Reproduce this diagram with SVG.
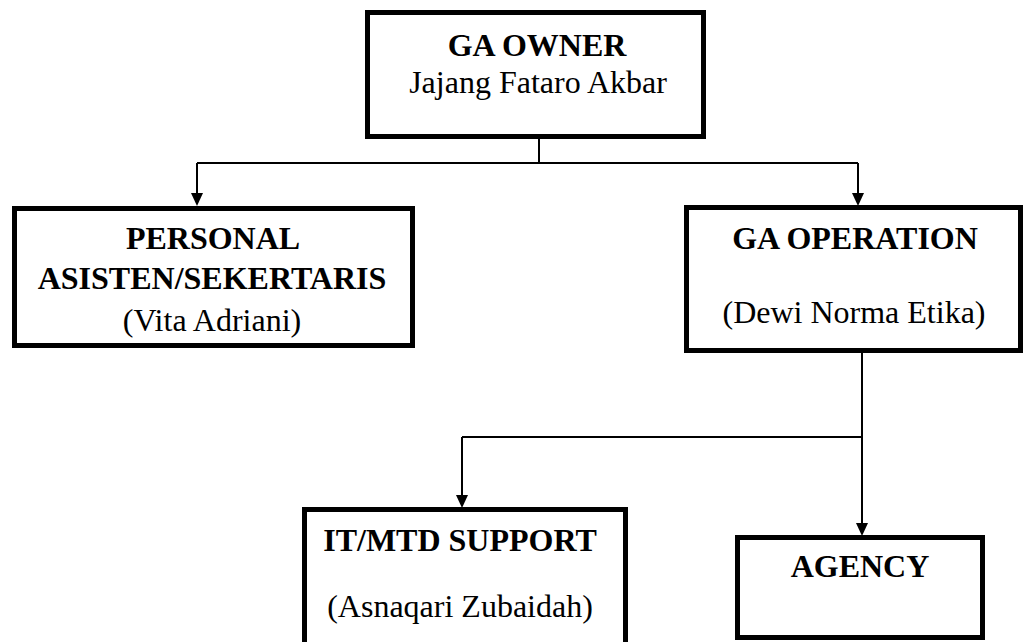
<svg xmlns="http://www.w3.org/2000/svg" width="1024" height="642" viewBox="0 0 1024 642">
<style>
.box{fill:#fff;stroke:#000;stroke-width:5}
.t{font-family:"Liberation Serif","Times New Roman",serif;font-size:32px;fill:#000;text-anchor:middle}
.b{font-weight:bold}
.c{fill:none;stroke:#000;stroke-width:2}
</style>
<rect width="1024" height="642" fill="#fff"/>
<g id="connectors">
<path class="c" d="M539 139V163M197 163H858M197 163V194M858 163V194M862 353V437M462 437H862M462 437V496M862 437V524"/>
<polygon points="191,193 203,193 197,206"/>
<polygon points="852,193 864,193 858,206"/>
<polygon points="456,495 468,495 462,508"/>
<polygon points="856,523 868,523 862,536"/>
</g>
<g id="ga-owner">
<rect class="box" x="367.5" y="12.5" width="336" height="124"/>
<text class="t b" x="537" y="56">GA OWNER</text>
<text class="t" x="538" y="93">Jajang Fataro Akbar</text>
</g>
<g id="personal">
<rect class="box" x="14.5" y="208.5" width="398" height="137"/>
<text class="t b" x="213" y="249">PERSONAL</text>
<text class="t b" x="212" y="289">ASISTEN/SEKERTARIS</text>
<text class="t" x="212" y="331">(Vita Adriani)</text>
</g>
<g id="ga-operation">
<rect class="box" x="686.5" y="207.5" width="334" height="143"/>
<text class="t b" x="855" y="249">GA OPERATION</text>
<text class="t" x="854" y="323">(Dewi Norma Etika)</text>
</g>
<g id="it-support">
<rect class="box" x="304.5" y="509.5" width="321" height="200"/>
<text class="t b" x="460" y="551">IT/MTD SUPPORT</text>
<text class="t" x="460" y="617">(Asnaqari Zubaidah)</text>
</g>
<g id="agency">
<rect class="box" x="737.5" y="537.5" width="245" height="100"/>
<text class="t b" x="860" y="577">AGENCY</text>
</g>
</svg>
